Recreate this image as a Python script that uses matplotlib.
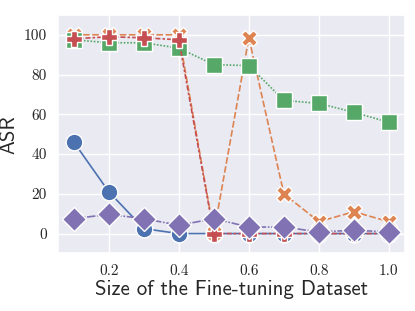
import numpy as np
import matplotlib
matplotlib.use("Agg")
import matplotlib.pyplot as plt
import seaborn as sns

sns.set_theme(style="darkgrid")
plt.rcParams["axes.formatter.use_mathtext"] = True

# fraction of the fine-tuning dataset
sizes = [0.1, 0.2, 0.3, 0.4, 0.5, 0.6, 0.7, 0.8, 0.9, 1.0]

asr_a = [46, 21, 2.5, 0, 0, 0, 0, 0, 0, 0]
asr_b = [100, 100, 100, 100, 0.5, 98.5, 20, 6, 11, 6]
asr_c = [97.5, 96, 96, 93.3, 85, 84.5, 67, 65.5, 61, 56]
asr_d = [98, 99, 98.5, 97.5, 0, 0, 0, 0, 0, 0]
asr_e = [7.5, 9.7, 7.5, 4.2, 7.5, 3.3, 3.3, 0.8, 1.7, 0.8]

series = [asr_a, asr_b, asr_c, asr_d, asr_e]
colores = sns.color_palette("deep")[:5]
marcadores = ["o", "X", "s", "P", "D"]
trazos = [(None, None), (4, 1.5), (1, 1), (3, 1.25, 1.5, 1.25), (5, 1, 1, 1)]

fig, ax = plt.subplots(figsize=(4.15, 3.11), dpi=100)

for valores, color, marca, trazo in zip(series, colores, marcadores, trazos):
    linea, = ax.plot(sizes, valores, color=color, marker=marca, markersize=12,
                     markeredgecolor="white", markeredgewidth=1.0, linewidth=1.2)
    if trazo[0] is not None:
        linea.set_dashes(trazo)

ax.set_ylim(-10, 110)
ax.set_xticks([0.2, 0.4, 0.6, 0.8, 1.0])
ax.set_yticks([0, 20, 40, 60, 80, 100])
ax.set_xticklabels(["0.2", "0.4", "0.6", "0.8", "1.0"], fontfamily="cmr10", fontsize=11)
ax.set_yticklabels(["0", "20", "40", "60", "80", "100"], fontfamily="cmr10", fontsize=11)
ax.tick_params(axis="both", pad=2)

ax.set_xlabel("Size of the Fine-tuning Dataset", fontfamily="cmss10", fontsize=15, labelpad=1)
ax.set_ylabel("ASR", fontfamily="cmss10", fontsize=15, labelpad=4)

fig.subplots_adjust(left=0.14, right=0.975, bottom=0.185, top=0.952)
fig.savefig("out.png", dpi=100)
